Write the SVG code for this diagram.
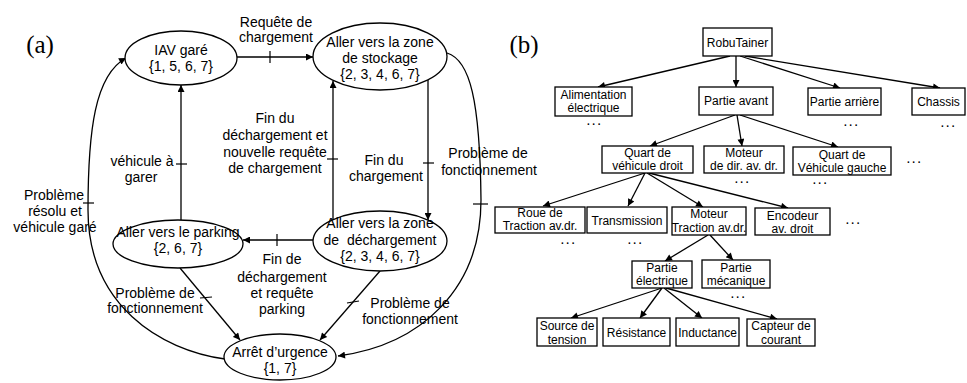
<svg xmlns="http://www.w3.org/2000/svg" width="967" height="383" viewBox="0 0 967 383">
<style>
  .n { fill: #fff; stroke: #000; stroke-width: 1.3; }
  .c { fill: none; stroke: #000; stroke-width: 1.3; }
  .t { fill: none; stroke: #000; stroke-width: 1.2; }
  .a { font-family: "Liberation Sans", Arial, sans-serif; font-size: 14px; fill: #000; text-anchor: middle; }
  .b { font-family: "Liberation Sans", Arial, sans-serif; font-size: 12px; fill: #000; text-anchor: middle; }
  .d { font-family: "Liberation Sans", Arial, sans-serif; font-size: 10px; font-weight: bold; letter-spacing: 2.5px; fill: #000; text-anchor: middle; }
  .p { font-family: "Liberation Serif", "Times New Roman", serif; font-size: 25px; fill: #000; text-anchor: middle; }
</style>
<defs>
  <marker id="ah" viewBox="0 0 10 10" refX="10" refY="5" markerWidth="9" markerHeight="7" orient="auto" markerUnits="userSpaceOnUse">
    <path d="M0,0 L10,5 L0,10 z" fill="#000"/>
  </marker>
</defs>

<text class="p" x="40" y="53">(a)</text>
<text class="p" x="524" y="53">(b)</text>

<!-- Connectors (a) -->
<g id="connectors-a">
  <line class="c" x1="237" y1="57" x2="313" y2="57" marker-end="url(#ah)"/>
  <line class="t" x1="270" y1="51" x2="270" y2="63"/>
  <text class="a" x="276" y="27">Requête de</text>
  <text class="a" x="276" y="42">chargement</text>

  <line class="c" x1="181" y1="220" x2="181" y2="85" marker-end="url(#ah)"/>
  <line class="t" x1="176" y1="164" x2="187" y2="164"/>
  <text class="a" x="142" y="166">véhicule à</text>
  <text class="a" x="141" y="182">garer</text>

  <line class="c" x1="333" y1="220" x2="333" y2="81" marker-end="url(#ah)"/>
  <line class="t" x1="327" y1="159" x2="338" y2="159"/>
  <text class="a" x="275" y="123">Fin du</text>
  <text class="a" x="275" y="140">déchargement et</text>
  <text class="a" x="275" y="157">nouvelle requête</text>
  <text class="a" x="275" y="173">de chargement</text>

  <line class="c" x1="428" y1="80" x2="428" y2="220" marker-end="url(#ah)"/>
  <line class="t" x1="423" y1="163" x2="434" y2="163"/>
  <text class="a" x="384" y="165">Fin du</text>
  <text class="a" x="386" y="181">chargement</text>

  <path class="c" d="M447,53 C470,60 480,100 481,200 C481,290 420,345 338,356" marker-end="url(#ah)"/>
  <line class="t" x1="473" y1="204" x2="488" y2="204"/>
  <text class="a" x="488" y="158">Problème de</text>
  <text class="a" x="489" y="175">fonctionnement</text>

  <line class="c" x1="313" y1="240" x2="243" y2="240" marker-end="url(#ah)"/>
  <line class="t" x1="277" y1="234" x2="277" y2="246"/>
  <text class="a" x="282" y="264">Fin de</text>
  <text class="a" x="282" y="282">déchargement</text>
  <text class="a" x="282" y="298">et requête</text>
  <text class="a" x="282" y="314">parking</text>

  <line class="c" x1="180" y1="268" x2="240" y2="340" marker-end="url(#ah)"/>
  <line class="t" x1="200" y1="298" x2="212" y2="297"/>
  <text class="a" x="155" y="298">Problème de</text>
  <text class="a" x="155" y="313">fonctionnement</text>

  <line class="c" x1="380" y1="271" x2="320" y2="340" marker-end="url(#ah)"/>
  <line class="t" x1="347" y1="303" x2="359" y2="301"/>
  <text class="a" x="410" y="308">Problème de</text>
  <text class="a" x="410" y="324">fonctionnement</text>

  <path class="c" d="M225,359 C160,350 88,305 88,210 C88,130 95,75 126,58" marker-end="url(#ah)"/>
  <line class="t" x1="83" y1="203" x2="94" y2="203"/>
  <text class="a" x="54" y="200">Problème</text>
  <text class="a" x="55" y="216">résolu et</text>
  <text class="a" x="55" y="232">véhicule garé</text>
</g>

<!-- Nodes (a) -->
<g id="iav-gare">
  <ellipse class="n" cx="181" cy="58" rx="56" ry="27"/>
  <text class="a" x="181" y="55">IAV garé</text>
  <text class="a" x="181" y="71">{1, 5, 6, 7}</text>
</g>
<g id="zone-stockage">
  <ellipse class="n" cx="380" cy="56.5" rx="67" ry="33.5"/>
  <text class="a" x="380" y="47">Aller vers la zone</text>
  <text class="a" x="380" y="63">de stockage</text>
  <text class="a" x="380" y="79">{2, 3, 4, 6, 7}</text>
</g>
<g id="zone-dechargement">
  <ellipse class="n" cx="380" cy="241" rx="67" ry="30"/>
  <text class="a" x="380" y="228">Aller vers la zone</text>
  <text class="a" x="380" y="245" xml:space="preserve">de  déchargement</text>
  <text class="a" x="380" y="261">{2, 3, 4, 6, 7}</text>
</g>
<g id="parking">
  <ellipse class="n" cx="178" cy="244" rx="65" ry="24"/>
  <text class="a" x="178" y="237">Aller vers le parking</text>
  <text class="a" x="178" y="253">{2, 6, 7}</text>
</g>
<g id="arret-urgence">
  <ellipse class="n" cx="280" cy="357" rx="56" ry="23"/>
  <text class="a" x="280" y="357">Arrêt d’urgence</text>
  <text class="a" x="280" y="373">{1, 7}</text>
</g>

<!-- Connectors (b) -->
<g id="connectors-b">
  <line class="c" x1="730" y1="56" x2="598" y2="87" marker-end="url(#ah)"/>
  <line class="c" x1="736" y1="56" x2="736" y2="87" marker-end="url(#ah)"/>
  <line class="c" x1="740" y1="56" x2="840" y2="88" marker-end="url(#ah)"/>
  <line class="c" x1="745" y1="56" x2="940" y2="88" marker-end="url(#ah)"/>
  <line class="c" x1="735" y1="115" x2="650" y2="146" marker-end="url(#ah)"/>
  <line class="c" x1="737" y1="115" x2="742" y2="146" marker-end="url(#ah)"/>
  <line class="c" x1="740" y1="115" x2="838" y2="147" marker-end="url(#ah)"/>
  <line class="c" x1="645" y1="173" x2="543" y2="206" marker-end="url(#ah)"/>
  <line class="c" x1="645" y1="173" x2="628" y2="206" marker-end="url(#ah)"/>
  <line class="c" x1="647" y1="173" x2="703" y2="207" marker-end="url(#ah)"/>
  <line class="c" x1="649" y1="173" x2="788" y2="208" marker-end="url(#ah)"/>
  <line class="c" x1="708" y1="235" x2="665" y2="261" marker-end="url(#ah)"/>
  <line class="c" x1="710" y1="235" x2="733" y2="260" marker-end="url(#ah)"/>
  <line class="c" x1="662" y1="288" x2="571" y2="318" marker-end="url(#ah)"/>
  <line class="c" x1="662" y1="288" x2="640" y2="318" marker-end="url(#ah)"/>
  <line class="c" x1="664" y1="288" x2="702" y2="318" marker-end="url(#ah)"/>
  <line class="c" x1="666" y1="288" x2="777" y2="319" marker-end="url(#ah)"/>
</g>

<!-- Nodes (b) -->
<g id="robutainer">
  <rect class="n" x="703" y="28" width="69" height="28"/>
  <text class="b" x="737.5" y="47">RobuTainer</text>
</g>
<g id="alimentation">
  <rect class="n" x="555" y="87" width="77" height="29"/>
  <text class="b" x="593.5" y="99">Alimentation</text>
  <text class="b" x="593.5" y="112">électrique</text>
  <text class="d" x="595" y="125">...</text>
</g>
<g id="partie-avant">
  <rect class="n" x="699" y="87" width="74" height="28"/>
  <text class="b" x="736" y="105">Partie avant</text>
</g>
<g id="partie-arriere">
  <rect class="n" x="808" y="88" width="73" height="27"/>
  <text class="b" x="844.5" y="106">Partie arrière</text>
  <text class="d" x="852" y="126">...</text>
</g>
<g id="chassis">
  <rect class="n" x="912" y="88" width="53" height="27"/>
  <text class="b" x="938.5" y="106">Chassis</text>
  <text class="d" x="949" y="127">...</text>
</g>
<g id="quart-droit">
  <rect class="n" x="602" y="146" width="91" height="27"/>
  <text class="b" x="647.5" y="157">Quart de</text>
  <text class="b" x="647.5" y="170">véhicule droit</text>
</g>
<g id="moteur-dir">
  <rect class="n" x="704" y="146" width="80" height="27"/>
  <text class="b" x="744" y="157">Moteur</text>
  <text class="b" x="744" y="170">de dir. av. dr.</text>
  <text class="d" x="743" y="183">...</text>
</g>
<g id="quart-gauche">
  <rect class="n" x="793" y="147" width="98" height="28"/>
  <text class="b" x="842" y="159">Quart de</text>
  <text class="b" x="842" y="172">Véhicule gauche</text>
  <text class="d" x="821" y="184">...</text>
  <text class="d" x="915" y="163">...</text>
</g>
<g id="roue-traction">
  <rect class="n" x="495" y="207" width="90" height="26"/>
  <text class="b" x="540" y="217">Roue de</text>
  <text class="b" x="540" y="230">Traction av.dr.</text>
  <text class="d" x="569" y="244">...</text>
</g>
<g id="transmission">
  <rect class="n" x="587" y="207" width="80" height="26"/>
  <text class="b" x="627" y="225">Transmission</text>
  <text class="d" x="636" y="244">...</text>
</g>
<g id="moteur-traction">
  <rect class="n" x="672" y="207" width="74" height="28"/>
  <text class="b" x="709" y="218">Moteur</text>
  <text class="b" x="709" y="232">Traction av.dr.</text>
</g>
<g id="encodeur">
  <rect class="n" x="755" y="208" width="75" height="27"/>
  <text class="b" x="792.5" y="220">Encodeur</text>
  <text class="b" x="792.5" y="233">av. droit</text>
  <text class="d" x="854" y="224">...</text>
</g>
<g id="partie-electrique">
  <rect class="n" x="632" y="261" width="60" height="27"/>
  <text class="b" x="662" y="272">Partie</text>
  <text class="b" x="662" y="285">électrique</text>
</g>
<g id="partie-mecanique">
  <rect class="n" x="702" y="260" width="68" height="28"/>
  <text class="b" x="736" y="272">Partie</text>
  <text class="b" x="736" y="285">mécanique</text>
  <text class="d" x="739" y="298">...</text>
</g>
<g id="source-tension">
  <rect class="n" x="537" y="318" width="60" height="28"/>
  <text class="b" x="567" y="330">Source de</text>
  <text class="b" x="567" y="344">tension</text>
</g>
<g id="resistance">
  <rect class="n" x="603" y="318" width="67" height="28"/>
  <text class="b" x="636.5" y="337">Résistance</text>
</g>
<g id="inductance">
  <rect class="n" x="676" y="318" width="63" height="28"/>
  <text class="b" x="707.5" y="337">Inductance</text>
</g>
<g id="capteur-courant">
  <rect class="n" x="747" y="319" width="68" height="27"/>
  <text class="b" x="781" y="330">Capteur de</text>
  <text class="b" x="781" y="344">courant</text>
</g>
</svg>
